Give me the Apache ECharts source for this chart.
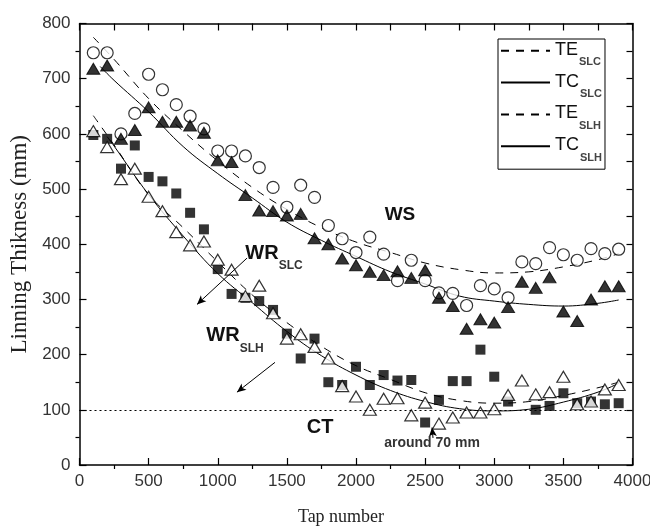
<!DOCTYPE html>
<html><head><meta charset="utf-8">
<script src="https://cdn.jsdelivr.net/npm/echarts@6/dist/echarts.min.js"></script>
<style>html,body{margin:0;padding:0;background:#fff}#c{width:650px;height:528px}</style>
</head><body><div id="c"></div>
<script>
// ---- data ----
const taps = [100,200,300,400,500,600,700,800,900,1000,1100,1200,1300,1400,1500,1600,1700,1800,1900,2000,2100,2200,2300,2400,2500,2600,2700,2800,2900,3000,3100,3200,3300,3400,3500,3600,3700,3800,3900];
// WS, open circles
const wsCircles = [747,747,600,637,708,680,653,632,609,569,569,560,539,503,467,507,485,434,410,385,413,382,334,371,334,312,311,289,325,319,303,368,365,394,381,371,392,383,391];
// WS, filled triangles
const wsTriangles = [718,724,591,607,648,622,622,615,602,552,549,489,461,460,452,455,411,400,374,362,350,344,351,339,353,303,288,247,264,258,286,332,321,340,278,261,300,324,324];
// WR, filled squares (null = not visible)
const wrSquares = [598,591,537,579,522,514,492,457,427,355,310,303,297,281,238,193,229,150,145,178,145,163,153,154,77,118,152,152,209,160,115,null,100,107,130,112,115,110,112];
// WR, open triangles
const wrTriangles = [605,576,518,537,486,460,422,398,405,372,354,306,325,275,229,237,214,193,143,124,100,120,121,90,113,75,86,95,95,101,127,153,128,132,160,110,115,137,145];

// fitted curves
const teSlcX = [100,250,500,750,1000,1250,1500,1750,2000,2250,2500,2750,3000,3250,3500,3750,3900];
const teSlcY = [775,735,664,605,551,503,463,430,404,385,366,354,348,350,359,372,383];
const tcSlcX = [150,250,500,750,1000,1250,1500,1750,2000,2250,2500,2750,3000,3250,3500,3750,3900];
const tcSlcY = [722,697,640,577,528,484,440,407,378,350,328,306,297,291,288,293,299];
const teSlhX = [100,250,500,750,1000,1250,1500,1750,2000,2250,2500,2750,3000,3250,3500,3750,3900];
const teSlhY = [633,580,490,430,368,308,258,215,180,155,131,117,112,115,126,140,150];
const tcSlhX = [200,250,500,750,1000,1250,1500,1750,2000,2250,2500,2750,3000,3250,3500,3750,3900];
const tcSlhY = [595,578,490,415,347,294,242,198,163,135,115,102,98,101,114,132,148];

const criticalThickness = 100;
const xTicks = [0,500,1000,1500,2000,2500,3000,3500,4000];
const yTicks = [0,100,200,300,400,500,600,700,800];

// ---- helpers ----
const pairs = (xs, ys) => xs.map((x, i) => [x, ys[i]]).filter(p => p[1] !== null);
const SANS = 'Liberation Sans';
const SERIF = 'Liberation Serif';

const baseX = { type: 'value', min: xTicks[0], max: xTicks[xTicks.length-1], interval: xTicks[1]-xTicks[0], gridIndex: 0, splitLine: {show:false} };
const baseY = { type: 'value', min: yTicks[0], max: yTicks[yTicks.length-1], interval: yTicks[1]-yTicks[0], gridIndex: 0, splitLine: {show:false} };
const axisLine = { show: true, onZero: false, lineStyle: { color: '#000', width: 1.5 } };
const plain = v => String(v);

const chart = echarts.init(document.getElementById('c'), null, { renderer: 'canvas' });

const lineSeries = (name, xs, ys, dashed, extra) => Object.assign({
  name, type: 'line', data: pairs(xs, ys), smooth: 0.4, symbol: 'none', showSymbol: false,
  lineStyle: { color: '#000', width: 1, type: dashed ? [8, 7] : 'solid' },
  itemStyle: { color: '#000' }, z: 1, silent: true
}, extra || {});

const ann = (x, y, formatter, rich) => ({
  coord: [x, y], symbol: 'rect', symbolSize: 1, itemStyle: { color: 'rgba(0,0,0,0)' },
  label: { show: true, position: 'inside', formatter, rich }
});
const subRich = (big, small, pad) => ({
  a: { fontFamily: SANS, fontWeight: 'bold', fontSize: big, lineHeight: big + 2, verticalAlign: 'top', color: '#111' },
  b: { fontFamily: SANS, fontWeight: 'bold', fontSize: small, lineHeight: small, verticalAlign: 'top', padding: [pad,0,0,0], color: '#333' }
});

const option = {
  backgroundColor: '#fff',
  animation: false,
  grid: { left: 79.5, right: 17.5, top: 23.5, bottom: 63, containLabel: false, outerBoundsMode: 'none' },
  xAxis: [
    Object.assign({}, baseX, { position: 'bottom', axisLine,
      axisTick: { show: true, inside: true, length: 7, lineStyle: { color: '#000', width: 1.2 } },
      axisLabel: { show: true, margin: 8, fontFamily: SANS, fontSize: 17, color: '#333', formatter: plain },
      name: 'Tap number', nameLocation: 'middle', nameGap: 43,
      nameTextStyle: { fontFamily: SERIF, fontSize: 18, color: '#222', padding: [0, 30, 0, 0] } }),
    Object.assign({}, baseX, { position: 'bottom', axisLine: { show: false },
      axisTick: { show: false }, axisLabel: { show: false },
      minorTick: { show: true, splitNumber: 2, length: 4, lineStyle: { color: '#000', width: 1.2 } } }),
    Object.assign({}, baseX, { position: 'top', axisLine, interval: 250,
      axisTick: { show: true, inside: true, length: 7, lineStyle: { color: '#000', width: 1.2 } },
      axisLabel: { show: false } })
  ],
  yAxis: [
    Object.assign({}, baseY, { position: 'left', axisLine,
      axisTick: { show: true, inside: true, length: 7, lineStyle: { color: '#000', width: 1.2 } },
      axisLabel: { show: true, margin: 9, fontFamily: SANS, fontSize: 17, color: '#333', formatter: plain },
      name: 'Linning Thikness (mm)', nameLocation: 'middle', nameGap: 45,
      nameTextStyle: { fontFamily: SERIF, fontSize: 23, color: '#222' } }),
    Object.assign({}, baseY, { position: 'left', axisLine: { show: false },
      axisTick: { show: false }, axisLabel: { show: false },
      minorTick: { show: true, splitNumber: 2, length: 4, lineStyle: { color: '#000', width: 1.2 } } }),
    Object.assign({}, baseY, { position: 'right', axisLine, interval: 50,
      axisTick: { show: true, inside: true, length: 6, lineStyle: { color: '#000', width: 1.2 } },
      axisLabel: { show: false } })
  ],
  legend: {
    data: ['TE_SLC', 'TC_SLC', 'TE_SLH', 'TC_SLH'],
    orient: 'vertical', left: 498, top: 39,
    itemWidth: 49, itemHeight: 27, itemGap: 4,
    padding: [1, 3, 6, 2],
    borderColor: '#000', borderWidth: 1,
    selectedMode: false,
    itemStyle: { opacity: 0, borderWidth: 0 },
    formatter: name => { const p = name.split('_'); return '{a|' + p[0] + '}{b|' + p[1] + '}'; },
    textStyle: {
      rich: {
        a: { fontFamily: SANS, fontSize: 18, lineHeight: 20, verticalAlign: 'top', color: '#111' },
        b: { fontFamily: SANS, fontWeight: 'bold', fontSize: 11, lineHeight: 11, verticalAlign: 'top', padding: [16,0,0,1], color: '#444' }
      }
    }
  },
  series: [
    { name: 'wsCircles', type: 'scatter', data: pairs(taps, wsCircles), symbol: 'circle', symbolSize: 12,
      itemStyle: { color: '#fff', borderColor: '#000', borderWidth: 1.2 }, z: 3, silent: true },
    { name: 'wsTriangles', type: 'scatter', data: pairs(taps, wsTriangles), symbol: 'triangle', symbolSize: [13, 11],
      itemStyle: { color: '#000', borderColor: '#000', borderWidth: 1 }, z: 4, silent: true },
    { name: 'wrSquares', type: 'scatter', data: pairs(taps, wrSquares), symbol: 'rect', symbolSize: 10,
      itemStyle: { color: '#000' }, z: 3, silent: true },
    { name: 'wrTriangles', type: 'scatter', data: pairs(taps, wrTriangles), symbol: 'triangle', symbolSize: [13, 11],
      itemStyle: { color: '#fff', borderColor: '#000', borderWidth: 1.2 }, z: 4, silent: true },
    lineSeries('TE_SLC', teSlcX, teSlcY, true),
    lineSeries('TC_SLC', tcSlcX, tcSlcY, false),
    lineSeries('TE_SLH', teSlhX, teSlhY, true, {
      markLine: { silent: true, symbol: ['none', 'none'], label: { show: false },
        lineStyle: { color: '#000', width: 1.2, type: [2, 3] },
        data: [{ yAxis: criticalThickness }] }
    }),
    lineSeries('TC_SLH', tcSlhX, tcSlhY, false, {
      markLine: { silent: true, symbol: ['none', 'arrow'], symbolSize: [6, 9], label: { show: false },
        lineStyle: { color: '#000', width: 1, type: 'solid' },
        data: [
          [{ coord: [1212, 375] }, { coord: [850, 291] }],
          [{ coord: [1414, 186] }, { coord: [1139, 132] }],
          [{ coord: [2557, 49] }, { coord: [2550, 68] }]
        ] },
      markPoint: { silent: true, data: [
        ann(2318, 452, '{a|WS}', subRich(19, 12, 0)),
        ann(1407, 382, '{a|WR}{b|SLC}', subRich(20, 12, 17)),
        ann(1125, 233, '{a|WR}{b|SLH}', subRich(20, 12, 17)),
        ann(1740, 67, '{a|CT}', subRich(20, 12, 0)),
        ann(2550, 40, '{c|around 70 mm}', { c: { fontFamily: SANS, fontWeight: 'bold', fontSize: 14, color: '#333' } })
      ] }
    })
  ]
};
chart.setOption(option);
</script>
</body></html>
